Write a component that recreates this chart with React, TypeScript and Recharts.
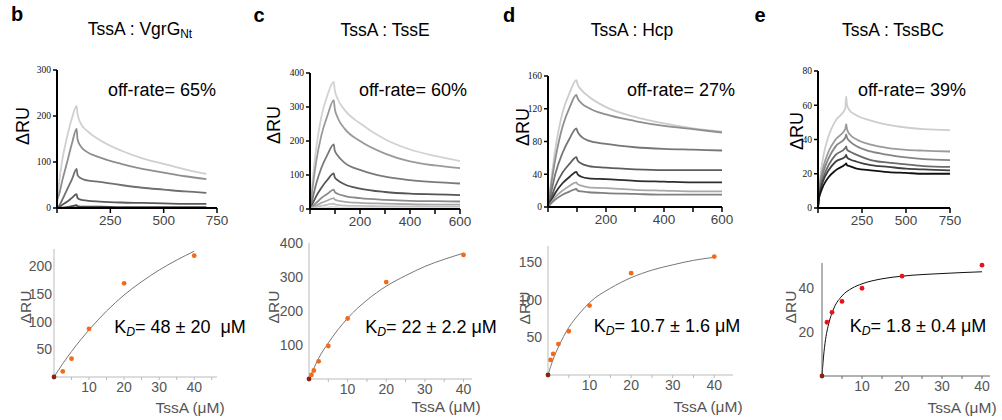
import React from 'react';
import { LineChart, Line, XAxis, YAxis, ComposedChart, Scatter } from 'recharts';

const SANS = '"Liberation Sans", Arial, Helvetica, sans-serif';
const SERIF = '"Liberation Serif", "Times New Roman", serif';

// ---------- sensorgrams (top row) ----------
const bTime = [0, 10, 25, 45, 70, 92, 96, 110, 140, 200, 300, 400, 500, 600, 700];
const bCurve1 = [5, 55, 105, 150, 195, 222, 205, 185, 168, 148, 125, 108, 96, 84, 74];
const bCurve2 = [18, 30, 60, 95, 140, 172, 150, 135, 122, 110, 96, 85, 77, 69, 63];
const bCurve3 = [0, 5, 18, 38, 62, 85, 72, 65, 60, 57, 50, 44, 40, 36, 33];
const bCurve4 = [0, 2, 7, 13, 22, 30, 22, 18, 16, 14, 12, 11, 10, 9, 9];
const bCurve5 = [0, 0, 1, 2, 4, 6, 4, 3, 3, 3, 2, 2, 2, 2, 2];
const bColors = ['#cfcfcf', '#8e8e8e', '#707070', '#5a5a5a', '#444444'];

const cTime = [0, 10, 25, 45, 70, 95, 99, 110, 140, 200, 300, 400, 500, 600];
const cCurve1 = [0, 80, 180, 270, 335, 374, 350, 325, 290, 252, 205, 175, 156, 141];
const cCurve2 = [0, 60, 140, 215, 275, 320, 295, 270, 235, 200, 163, 140, 128, 120];
const cCurve3 = [0, 30, 75, 120, 160, 190, 172, 158, 135, 115, 95, 85, 79, 75];
const cCurve4 = [0, 15, 38, 62, 86, 105, 93, 85, 72, 60, 50, 45, 43, 41];
const cCurve5 = [0, 7, 18, 32, 45, 57, 50, 45, 38, 32, 27, 24, 23, 22];
const cCurve6 = [0, 4, 10, 18, 25, 32, 28, 25, 21, 18, 16, 14, 13, 13];
const cCurve7 = [0, 2, 5, 9, 13, 16, 14, 12, 10, 9, 8, 7, 6, 6];
const cCurve8 = [0, 1, 2, 4, 5, 7, 6, 5, 4, 4, 3, 3, 3, 3];
const cColors = ['#d2d2d2', '#9a9a9a', '#7a7a7a', '#555555', '#8a8a8a', '#a8a8a8', '#c0c0c0', '#dddddd'];

const dTime = [0, 10, 25, 50, 75, 98, 102, 115, 140, 200, 300, 400, 500, 600];
const dCurve1 = [0, 30, 70, 115, 140, 155, 150, 143, 135, 122, 110, 102, 96, 92];
const dCurve2 = [0, 25, 58, 98, 122, 137, 133, 127, 121, 113, 105, 99, 95, 91];
const dCurve3 = [0, 16, 40, 66, 84, 96, 92, 86, 81, 77, 73, 71, 70, 69];
const dCurve4 = [0, 10, 25, 42, 53, 61, 57, 53, 50, 48, 46, 45, 45, 45];
const dCurve5 = [0, 7, 17, 29, 37, 43, 40, 37, 35, 34, 32, 31, 30, 30];
const dCurve6 = [0, 5, 12, 20, 26, 30, 28, 26, 24, 23, 21, 20, 19, 19];
const dCurve7 = [0, 4, 9, 15, 19, 22, 20, 19, 18, 17, 16, 15, 15, 15];
const dColors = ['#cccccc', '#8f8f8f', '#767676', '#5c5c5c', '#2e2e2e', '#a8a8a8', '#808080'];

const eTime = [0, 5, 15, 30, 60, 100, 155, 160, 165, 180, 220, 300, 400, 500, 600, 750];
const eCurve1 = [0, 10, 20, 30, 42, 51, 58, 65, 60, 57, 54, 51, 48.5, 47, 46, 45.5];
const eCurve2 = [0, 9, 17, 24, 33, 40, 46, 49, 46, 43, 40, 37, 35, 34, 33.5, 33];
const eCurve3 = [0, 8, 15, 21, 29, 36, 41, 43, 41, 39, 36, 33, 31, 29.5, 28.5, 28];
const eCurve4 = [0, 7, 13, 18, 25, 31, 35, 36, 34, 33, 31, 28, 26.5, 25.5, 24.5, 24];
const eCurve5 = [0, 6, 11, 16, 22, 27, 30, 31, 29.5, 28.5, 27, 25, 24, 23, 22.5, 22];
const eCurve6 = [0, 5, 9, 13, 18, 22, 25.5, 26, 25, 24.5, 23, 22, 21, 20.5, 20, 20];
const eColors = ['#cdcdcd', '#9b9b9b', '#848484', '#6a6a6a', '#404040', '#111111'];

// ---------- binding curves (bottom row) ----------
const bConc = [0, 2.5, 5, 10, 20, 40];
const bResp = [0, 10, 33, 87, 169, 219];
const bFitConc = [0, 2.5, 5, 10, 15, 20, 25, 30, 35, 40];
const bFitResp = [0, 24, 46, 85, 119, 148, 172, 193, 211, 227];

const cConc = [0, 0.625, 1.25, 2.5, 5, 10, 20, 40];
const cResp = [0, 12, 25, 52, 97, 178, 285, 365];
const cFitConc = [0, 1.25, 2.5, 5, 10, 15, 20, 25, 30, 35, 40];
const cFitResp = [0, 31, 61, 106, 179, 232, 273, 304, 331, 352, 370];

const dConc = [0, 0.625, 1.25, 2.5, 5, 10, 20, 40];
const dResp = [0, 20, 28, 41, 58, 92, 135, 157];
const dFitConc = [0, 1.25, 2.5, 5, 7.5, 10, 15, 20, 25, 30, 35, 40];
const dFitResp = [0, 21, 37, 63, 81, 96, 115, 129, 139, 146, 152, 156];

const eConc = [0, 1.25, 2.5, 5, 10, 20, 40];
const eResp = [0, 24.5, 29, 34, 40, 45.5, 50.5];
const eFitConc = [0, 0.25, 0.5, 1, 1.5, 2, 3, 5, 7.5, 10, 15, 20, 30, 40];
const eFitResp = [0, 6, 11, 18, 22.5, 26, 31, 36.5, 40, 42, 44.3, 45.5, 46.7, 47.5];

type Plot = { l: number; t: number; r: number; b: number };
const YW = 40;
const XH = 28;
const PAD = 6;
const PADT = 14;
const PADR = 20;

function frame(p: Plot) {
  return {
    left: p.l - YW - PAD,
    top: p.t - PADT,
    width: p.r - p.l + YW + PAD + PADR,
    height: p.b - p.t + XH + PADT + PAD,
  };
}

const margin = { top: PADT, right: PADR, bottom: PAD, left: PAD };

function Sensorgram(props: {
  plot: Plot;
  time: number[];
  curves: number[][];
  colors: string[];
  xMax: number;
  xTicks: number[];
  xLabels: number[];
  yMax: number;
  yTicks: number[];
}) {
  const { plot, time, curves, colors, xMax, xTicks, xLabels, yMax, yTicks } = props;
  const f = frame(plot);
  const data = time.map((t, i) => {
    const row: Record<string, number> = { t };
    curves.forEach((c, k) => (row['s' + k] = c[i]));
    return row;
  });
  return (
    <div style={{ position: 'absolute', left: f.left, top: f.top }}>
      <LineChart width={f.width} height={f.height} data={data} margin={margin}>
        <XAxis
          dataKey="t"
          type="number"
          domain={[0, xMax]}
          ticks={xTicks}
          interval={0}
          height={XH}
          tickFormatter={(v: number) => (xLabels.includes(v) ? String(v) : '')}
          axisLine={{ stroke: '#000', strokeWidth: 2 }}
          tickLine={{ stroke: '#000', strokeWidth: 1.5 }}
          tickSize={5}
          tick={{ fill: '#444', fontSize: 13.5, fontFamily: SANS }}
        />
        <YAxis
          type="number"
          domain={[0, yMax]}
          ticks={yTicks}
          interval={0}
          width={YW}
          axisLine={{ stroke: '#000', strokeWidth: 2 }}
          tickLine={{ stroke: '#000', strokeWidth: 1.5 }}
          tickSize={4}
          tickMargin={2}
          tick={{ fill: '#111', fontSize: 9.5, fontFamily: SERIF }}
        />
        {curves.map((_, k) => (
          <Line
            key={k}
            dataKey={'s' + k}
            type="monotone"
            stroke={colors[k]}
            strokeWidth={1.8}
            dot={false}
            isAnimationActive={false}
          />
        ))}
      </LineChart>
    </div>
  );
}

function Binding(props: {
  plot: Plot;
  conc: number[];
  resp: number[];
  fitConc: number[];
  fitResp: number[];
  xMax: number;
  yMax: number;
  yTicks: number[];
  dotColor: string;
  fitColor: string;
  axisColor: string;
  yGap: number;
}) {
  const { plot, conc, resp, fitConc, fitResp, xMax, yMax, yTicks, dotColor, fitColor, axisColor, yGap } = props;
  const f = frame(plot);
  const pts = conc.map((x, i) => ({ x, y: resp[i] }));
  const fit = fitConc.map((x, i) => ({ x, y: fitResp[i] }));
  const xTicks = [5, 10, 15, 20, 25, 30, 35, 40, 45].filter((v) => v <= xMax);
  return (
    <div style={{ position: 'absolute', left: f.left, top: f.top }}>
      <ComposedChart width={f.width} height={f.height} margin={margin}>
        <XAxis
          dataKey="x"
          type="number"
          domain={[0, xMax]}
          ticks={xTicks}
          interval={0}
          height={XH}
          tickFormatter={(v: number) => (v % 10 === 0 ? String(v) : '')}
          axisLine={{ stroke: axisColor, strokeWidth: 1 }}
          tickLine={{ stroke: axisColor, strokeWidth: 1 }}
          tickSize={3}
          tick={{ fill: '#555', fontSize: 14, fontFamily: SANS }}
        />
        <YAxis
          type="number"
          domain={[0, yMax]}
          ticks={yTicks}
          interval={0}
          width={YW}
          axisLine={{ stroke: axisColor, strokeWidth: 1 }}
          tickLine={false}
          tickSize={0}
          tickMargin={yGap}
          tick={{ fill: '#555', fontSize: 14, fontFamily: SANS }}
        />
        <Line
          data={fit}
          dataKey="y"
          type="monotone"
          stroke={fitColor}
          strokeWidth={1}
          dot={false}
          isAnimationActive={false}
        />
        <Scatter
          data={pts}
          dataKey="y"
          isAnimationActive={false}
          shape={(p: any) => (
            <circle cx={p.cx} cy={p.cy} r={2.4} fill={p.payload.x === 0 ? '#8a2410' : dotColor} />
          )}
        />
      </ComposedChart>
    </div>
  );
}

function Txt(props: {
  x: number;
  y: number;
  size: number;
  color?: string;
  bold?: boolean;
  rotate?: boolean;
  children: React.ReactNode;
}) {
  const { x, y, size, color = '#000', bold, rotate, children } = props;
  return (
    <div
      style={{
        position: 'absolute',
        left: x,
        top: y,
        transform: `translate(-50%, -50%)${rotate ? ' rotate(-90deg)' : ''}`,
        fontSize: size,
        color,
        fontWeight: bold ? 'bold' : 'normal',
        fontFamily: SANS,
        whiteSpace: 'pre',
        lineHeight: 1,
      }}
    >
      {children}
    </div>
  );
}

const sub = (s: string, italic = false) => (
  <span style={{ fontSize: '0.68em', verticalAlign: '-0.3em', fontStyle: italic ? 'italic' : 'normal' }}>{s}</span>
);

export default function App() {
  return (
    <div
      style={{
        position: 'absolute',
        left: 0,
        top: 0,
        width: 1002,
        height: 420,
        background: '#fff',
        overflow: 'hidden',
        fontFamily: SANS,
      }}
    >
      {/* panel letters and titles */}
      <Txt x={17} y={14} size={20} bold>b</Txt>
      <Txt x={259} y={15} size={20} bold>c</Txt>
      <Txt x={509} y={15} size={20} bold>d</Txt>
      <Txt x={760} y={15} size={20} bold>e</Txt>
      <Txt x={140} y={31} size={17.5}>TssA : VgrG{sub('Nt')}</Txt>
      <Txt x={385} y={31} size={17.5}>TssA : TssE</Txt>
      <Txt x={632} y={31} size={17.5}>TssA : Hcp</Txt>
      <Txt x={893} y={31} size={17.5}>TssA : TssBC</Txt>

      {/* top row */}
      <Sensorgram
        plot={{ l: 57, t: 70, r: 217, b: 208 }}
        time={bTime}
        curves={[bCurve1, bCurve2, bCurve3, bCurve4, bCurve5]}
        colors={bColors}
        xMax={750}
        xTicks={[0, 250, 500, 750]}
        xLabels={[250, 500, 750]}
        yMax={300}
        yTicks={[0, 100, 200, 300]}
      />
      <Sensorgram
        plot={{ l: 310, t: 73, r: 460, b: 209 }}
        time={cTime}
        curves={[cCurve1, cCurve2, cCurve3, cCurve4, cCurve5, cCurve6, cCurve7, cCurve8]}
        colors={cColors}
        xMax={600}
        xTicks={[0, 100, 200, 300, 400, 500, 600]}
        xLabels={[200, 400, 600]}
        yMax={400}
        yTicks={[0, 100, 200, 300, 400]}
      />
      <Sensorgram
        plot={{ l: 548, t: 76, r: 722, b: 207 }}
        time={dTime}
        curves={[dCurve1, dCurve2, dCurve3, dCurve4, dCurve5, dCurve6, dCurve7]}
        colors={dColors}
        xMax={600}
        xTicks={[0, 100, 200, 300, 400, 500, 600]}
        xLabels={[200, 400, 600]}
        yMax={160}
        yTicks={[0, 40, 80, 120, 160]}
      />
      <Sensorgram
        plot={{ l: 818, t: 71, r: 950, b: 208 }}
        time={eTime}
        curves={[eCurve1, eCurve2, eCurve3, eCurve4, eCurve5, eCurve6]}
        colors={eColors}
        xMax={750}
        xTicks={[0, 250, 500, 750]}
        xLabels={[250, 500, 750]}
        yMax={80}
        yTicks={[0, 20, 40, 60, 80]}
      />
      <Txt x={23} y={126} size={18} rotate>ΔRU</Txt>
      <Txt x={274} y={125} size={18} rotate>ΔRU</Txt>
      <Txt x={523} y={127} size={18} rotate>ΔRU</Txt>
      <Txt x={797} y={131} size={18} rotate>ΔRU</Txt>
      <Txt x={162} y={90} size={18}>off-rate= 65%</Txt>
      <Txt x={413} y={90} size={18}>off-rate= 60%</Txt>
      <Txt x={681} y={90} size={18}>off-rate= 27%</Txt>
      <Txt x={912} y={90} size={18}>off-rate= 39%</Txt>

      {/* bottom row */}
      <Binding
        plot={{ l: 54, t: 249, r: 217, b: 377 }}
        conc={bConc}
        resp={bResp}
        fitConc={bFitConc}
        fitResp={bFitResp}
        xMax={46.5}
        yMax={231}
        yTicks={[50, 100, 150, 200]}
        dotColor="#f26a1b"
        fitColor="#777"
        axisColor="#bbb"
        yGap={2}
      />
      <Binding
        plot={{ l: 309, t: 243, r: 472, b: 379 }}
        conc={cConc}
        resp={cResp}
        fitConc={cFitConc}
        fitResp={cFitResp}
        xMax={42.2}
        yMax={400}
        yTicks={[100, 200, 300, 400]}
        dotColor="#f26a1b"
        fitColor="#777"
        axisColor="#bbb"
        yGap={6}
      />
      <Binding
        plot={{ l: 548, t: 246, r: 733, b: 375 }}
        conc={dConc}
        resp={dResp}
        fitConc={dFitConc}
        fitResp={dFitResp}
        xMax={44.5}
        yMax={171}
        yTicks={[50, 100, 150]}
        dotColor="#f26a1b"
        fitColor="#777"
        axisColor="#bbb"
        yGap={6}
      />
      <Binding
        plot={{ l: 822, t: 263, r: 990, b: 376 }}
        conc={eConc}
        resp={eResp}
        fitConc={eFitConc}
        fitResp={eFitResp}
        xMax={42}
        yMax={51.5}
        yTicks={[20, 40]}
        dotColor="#e8141c"
        fitColor="#111"
        axisColor="#666"
        yGap={8}
      />
      <Txt x={26} y={307} size={15.5} color="#555" rotate>ΔRU</Txt>
      <Txt x={274} y={307} size={15.5} color="#555" rotate>ΔRU</Txt>
      <Txt x={525} y={308} size={15.5} color="#555" rotate>ΔRU</Txt>
      <Txt x={791} y={307} size={15.5} color="#555" rotate>ΔRU</Txt>
      <Txt x={190} y={408} size={15.5} color="#555">TssA (μM)</Txt>
      <Txt x={446} y={407} size={15.5} color="#555">TssA (μM)</Txt>
      <Txt x={708} y={407} size={15.5} color="#555">TssA (μM)</Txt>
      <Txt x={962} y={408} size={15.5} color="#555">TssA (μM)</Txt>
      <Txt x={180} y={328} size={18}>K{sub('D', true)}= 48 ± 20  μM</Txt>
      <Txt x={431} y={328} size={18}>K{sub('D', true)}= 22 ± 2.2 μM</Txt>
      <Txt x={667} y={327} size={18}>K{sub('D', true)}= 10.7 ± 1.6 μM</Txt>
      <Txt x={918} y={327} size={18}>K{sub('D', true)}= 1.8 ± 0.4 μM</Txt>
    </div>
  );
}
